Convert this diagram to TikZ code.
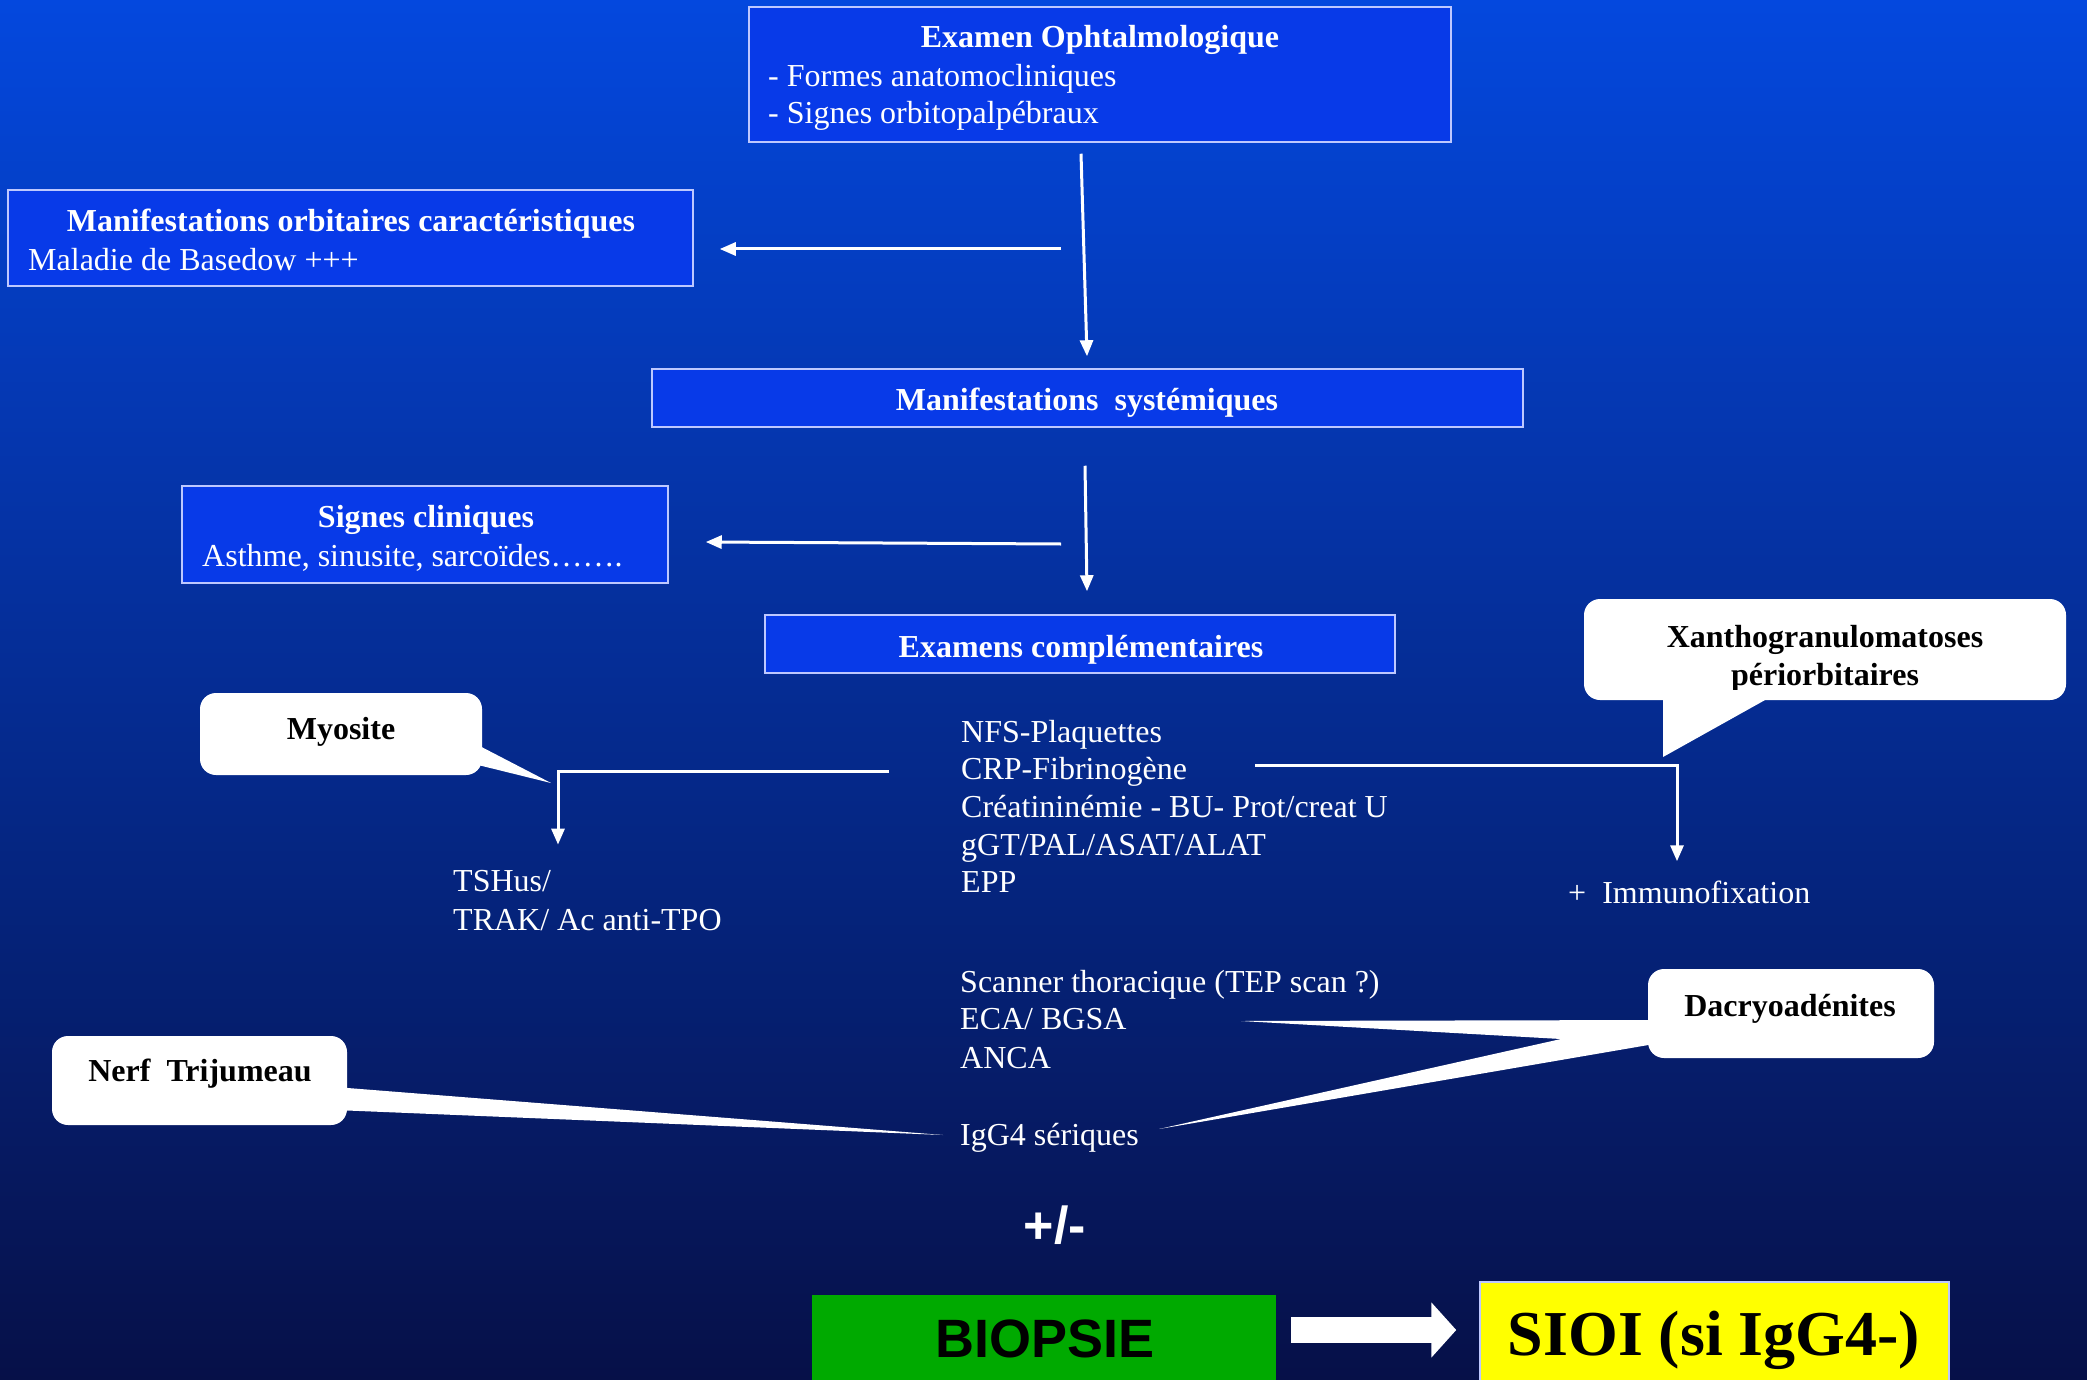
\documentclass[tikz,border=0pt]{standalone}
\usepackage{fontspec}
\setmainfont{Liberation Serif}
\newfontfamily\arialf{Liberation Sans}
\usetikzlibrary{arrows.meta,calc}
\definecolor{bgtop}{RGB}{4,72,222}
\definecolor{bgmid}{RGB}{2,52,178}
\definecolor{bgbot}{RGB}{6,16,72}
\definecolor{boxfill}{RGB}{8,58,232}
\definecolor{boxline}{RGB}{190,200,255}
\definecolor{biogreen}{RGB}{0,170,0}
\definecolor{sioiyellow}{RGB}{255,255,0}
\begin{document}
\begin{tikzpicture}[x=1pt,y=-1pt,
  bx/.style={draw=boxline, line width=1.5pt, fill=boxfill, inner sep=0pt},
  wt/.style={text=white, inner sep=0pt, font=\fontsize{32}{37.7}\selectfont},
  bt/.style={text=white, inner sep=0pt, font=\fontsize{32}{37.7}\selectfont\bfseries},
  callout/.style={fill=white, rounded corners=16pt, inner sep=0pt},
  ct/.style={text=black, inner sep=0pt, font=\fontsize{32}{37.7}\selectfont\bfseries},
  arr/.style={draw=white, line width=3pt, -{Triangle[length=16pt,width=13pt]}},
  ln/.style={draw=white, line width=3pt}
]
\useasboundingbox (0,0) rectangle (2087,1380);
\shade[top color=bgtop, middle color=bgmid, bottom color=bgbot] (0,0) rectangle (2087,1380);

% blue boxes
\node[bx, minimum width=702pt, minimum height=135pt] (exam) at (1100,74.5) {};
\node[bt, anchor=base] at (1100,48) {Examen Ophtalmologique};
\node[wt, anchor=base west] at (768,86.5) {- Formes anatomocliniques};
\node[wt, anchor=base west] at (768,124) {- Signes orbitopalpébraux};

\node[bx, minimum width=685pt, minimum height=96pt] (orb) at (350.5,238) {};
\node[bt, anchor=base] at (351,232) {Manifestations orbitaires caractéristiques};
\node[wt, anchor=base west] at (28,271) {Maladie de Basedow +++};

\node[bx, minimum width=871pt, minimum height=58pt] (sys) at (1087.5,398) {};
\node[bt, anchor=base] at (1087,410) {Manifestations\ \ systémiques};

\node[bx, minimum width=486pt, minimum height=97pt] (sig) at (425,534.5) {};
\node[bt, anchor=base] at (426,527) {Signes cliniques};
\node[wt, anchor=base west] at (202,566) {Asthme, sinusite, sarcoïdes…….};

\node[bx, minimum width=630pt, minimum height=58pt] (comp) at (1080,644) {};
\node[bt, anchor=base] at (1081,657) {Examens complémentaires};

% central text blocks
\node[wt, anchor=base west] (nfs) at (961,742) {NFS-Plaquettes};
\node[wt, anchor=base west] (crp) at (961,779.7) {CRP-Fibrinogène};
\node[wt, anchor=base west] (crea) at (961,817.4) {Créatininémie - BU- Prot/creat U};
\node[wt, anchor=base west] (ggt) at (961,855.1) {gGT/PAL/ASAT/ALAT};
\node[wt, anchor=base west] (epp) at (961,892.8) {EPP};

\node[wt, anchor=base west] (tsh) at (453,891) {TSHus/};
\node[wt, anchor=base west] (trak) at (453,930) {TRAK/ Ac anti-TPO};
\node[wt, anchor=base west] (immu) at (1568,903) {+\ \ Immunofixation};

\node[wt, anchor=base west] (scan) at (960,992) {Scanner thoracique (TEP scan ?)};
\node[wt, anchor=base west] (eca) at (960,1029.5) {ECA/ BGSA};
\node[wt, anchor=base west] (anca) at (960,1068) {ANCA};
\node[wt, anchor=base west] (igg) at (960,1145) {IgG4 sériques};

\node[text=white, inner sep=0pt, anchor=base, font=\arialf\fontsize{52}{58}\selectfont\bfseries] (pm) at (1055,1243) {+/-};

% bottom boxes
\node[fill=biogreen, inner sep=0pt, minimum width=464pt, minimum height=85pt] (bio) at (1044,1337.5) {};
\node[text=black, inner sep=0pt, anchor=base, font=\arialf\fontsize{54}{60}\selectfont\bfseries] at (1045,1357) {BIOPSIE};
\node[fill=sioiyellow, draw=boxline, line width=1.5pt, inner sep=0pt, minimum width=469pt, minimum height=100pt] (sioi) at (1714.5,1332) {};
\node[text=black, inner sep=0pt, anchor=base, font=\fontsize{64}{70}\selectfont\bfseries] at (1714,1355) {SIOI (si IgG4-)};

% connectors
\coordinate (j1) at (1061,249);
\coordinate (j2) at (1061,544);
\coordinate (lstart) at (889,771);
\coordinate (rstart) at (1255,765);
\draw[arr] ([xshift=-19pt,yshift=-11pt]exam.south) -- ([xshift=-0.5pt,yshift=12pt]sys.north);
\draw[arr] (j1) -- ([xshift=26pt,yshift=-11pt]orb.east);
\draw[arr] ([xshift=-2.5pt,yshift=-38pt]sys.south) -- ([xshift=7pt,yshift=23pt]comp.north);
\draw[arr] (j2) -- ([xshift=37pt,yshift=-7.5pt]sig.east);
\draw[arr] (lstart) -| ([xshift=105pt,yshift=25pt]tsh.north west);
\draw[arr] (rstart) -| ([xshift=109pt,yshift=19pt]immu.north west);
\draw[white, line width=26pt, -{Triangle[length=25pt,width=54pt]}] ([xshift=15pt,yshift=7.5pt]bio.east) -- ([xshift=-23pt,yshift=2pt]sioi.west);

% callouts
\node[callout, minimum width=282pt, minimum height=82pt] (myo) at (341,734) {};
\node[ct, anchor=base] at (341,739) {Myosite};
\coordinate (myotip) at (551,783);
\fill[white] (470,741) -- (myotip) -- (470,763) -- cycle;

\node[callout, minimum width=482pt, minimum height=101pt] (xan) at (1825,649.5) {};
\node[ct, anchor=base] at (1825,647) {Xanthogranulomatoses};
\node[ct, anchor=base] at (1825,685) {périorbitaires};
\coordinate (xantip) at (1663,757);
\fill[white] (1663,690) -- (xantip) -- (1783,690) -- cycle;

\node[callout, minimum width=286pt, minimum height=89pt] (dac) at (1791,1013.5) {};
\node[ct, anchor=base] at (1790,1016) {Dacryoadénites};
\coordinate (dactipa) at (1241,1021);
\coordinate (dactipb) at (1159,1129);
\fill[white] (dactipa) -- (1660,1020) -- (1660,1043) -- (dactipb) -- (1561,1039) -- cycle;

\node[callout, minimum width=295pt, minimum height=89pt] (nerf) at (199.5,1080.5) {};
\node[ct, anchor=base] at (200,1081) {Nerf\ \ Trijumeau};
\coordinate (nerftip) at (943,1135);
\fill[white] (335,1087) -- (nerftip) -- (335,1110) -- cycle;
\end{tikzpicture}
\end{document}
